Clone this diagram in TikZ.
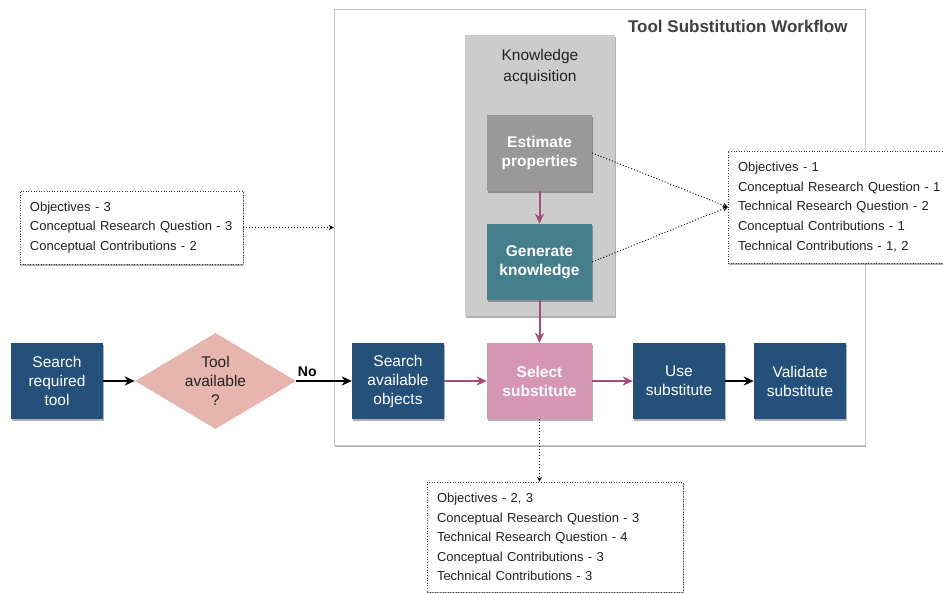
\documentclass[tikz,border=0pt]{standalone}
\usepackage{fontspec}
\setmainfont{Liberation Sans}
\usepackage{xcolor}
\usetikzlibrary{arrows.meta,shapes.geometric,shadows,calc}
\definecolor{tblue}{HTML}{24507A}
\definecolor{tteal}{HTML}{457F8B}
\definecolor{tgray}{HTML}{999999}
\definecolor{tlight}{HTML}{CCCCCC}
\definecolor{tpink}{HTML}{D596B4}
\definecolor{trose}{HTML}{E6B5AD}
\definecolor{tplum}{HTML}{A44C7B}
\definecolor{ttext}{HTML}{222222}
\tikzset{
  >={Stealth[length=10pt,width=9pt,inset=3pt]},
  tshadow/.style={drop shadow={shadow xshift=1.2pt, shadow yshift=-2pt,
                  opacity=0.3, fill=black}},
  tstep/.style={fill=tblue, text=white, align=center, inner sep=0pt,
                minimum width=92pt, minimum height=76pt, tshadow,
                font=\fontsize{15.5}{19}\selectfont},
  tkey/.style={tstep, minimum width=105pt, font=\fontsize{15.5}{19}\selectfont\bfseries},
  tdecide/.style={diamond, fill=trose, text=ttext, align=center, inner sep=0pt,
                  minimum width=161pt, minimum height=96pt, aspect=1.68,
                  font=\fontsize{15.5}{19}\selectfont},
  tnote/.style={draw=black!75, dash pattern=on 1pt off 1.6pt, fill=white, align=left,
                text=ttext, inner sep=0pt, inner xsep=10pt, tshadow,
                font=\fontsize{13}{19.6}\selectfont},
  tflow/.style={->, black, line width=1.8pt},
  tkflow/.style={->, tplum, line width=2pt},
  tlink/.style={-{Stealth[length=5pt,width=5pt]}, black, dash pattern=on 1pt off 2pt,
                line width=0.9pt},
}
\begin{document}
\begin{tikzpicture}[x=1pt,y=-1pt]
  \useasboundingbox (0,0) rectangle (943,593);

  % workflow frame
  \node[draw=black!22, fill=white, tshadow, minimum width=531pt, minimum height=436pt,
        inner sep=0pt] (wf) at (599.5,227) {};
  \node[anchor=east, text=black!75, font=\fontsize{17}{20}\selectfont\bfseries]
        (title) at (851,26) {Tool Substitution Workflow};

  % knowledge acquisition
  \node[fill=tlight, tshadow, minimum width=150pt, minimum height=281pt,
        inner sep=0pt] (kacq) at (540,175.5) {};
  \node[align=center, text=ttext, font=\fontsize{15.5}{21}\selectfont]
        (kacqlbl) at (540,66.5) {Knowledge\\acquisition};
  \node[tkey, fill=tgray] (est) at (539.5,153) {Estimate\\properties};
  \node[tkey, fill=tteal] (gen) at (539.5,262) {Generate\\knowledge};

  % main row
  \node[tstep] (req) at (57,381) {Search\\required\\tool};
  \node[tdecide] (avail) at (215.5,381) {Tool\\available\\?};
  \node[tstep] (objs) at (398,381) {Search\\available\\objects};
  \node[tkey, fill=tpink] (sel) at (539.5,381) {Select\\substitute};
  \node[tstep] (use) at (679,381) {Use\\substitute};
  \node[tstep] (val) at (800,381) {Validate\\substitute};

  \draw[tflow] (req) -- (avail);
  \draw[tflow] (avail) -- node[pos=0.2, above, inner sep=3pt,
        font=\fontsize{14}{16}\selectfont\bfseries] {No} (objs);
  \draw[tkflow] (objs) -- (sel);
  \draw[tkflow] (sel) -- (use);
  \draw[tflow] (use) -- (val);
  \draw[tkflow] (est) -- (gen);
  \draw[tkflow] (gen) -- (sel);

  % notes
  \node[tnote, text width=203pt, minimum height=73pt] (lnote) at (131.5,227.5)
    {Objectives - 3\\Conceptual Research Question - 3\\Conceptual Contributions - 2};
  \node[tnote, text width=212pt, minimum height=112pt] (rnote) at (844,207)
    {Objectives - 1\\Conceptual Research Question - 1\\Technical Research Question - 2\\
     Conceptual Contributions - 1\\Technical Contributions - 1, 2};
  \node[tnote, text width=236pt, minimum height=110pt] (bnote) at (555,537)
    {Objectives - 2, 3\\Conceptual Research Question - 3\\Technical Research Question - 4\\
     Conceptual Contributions - 3\\Technical Contributions - 3};

  \draw[tlink] (lnote.east) -- (lnote.east -| wf.west);
  \draw[tlink] (est.east) -- (rnote.west);
  \draw[tlink] (gen.east) -- (rnote.west);
  \draw[tlink] (sel.south) -- (sel.south |- bnote.north);

\end{tikzpicture}
\end{document}
